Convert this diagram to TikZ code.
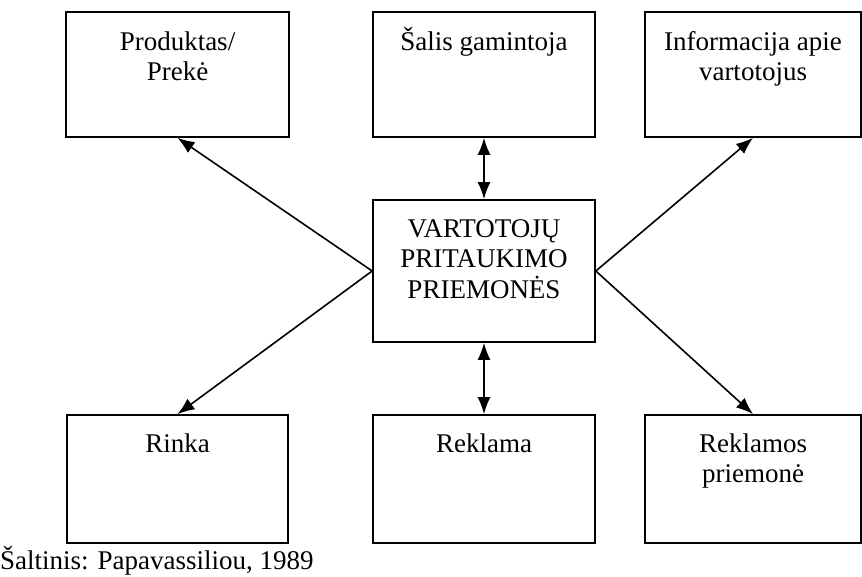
\documentclass[tikz,border=0pt]{standalone}
\usepackage{fontspec}
\setmainfont{Liberation Serif}
\usetikzlibrary{arrows.meta}
\newcommand{\tp}{\vphantom{Š}}
\begin{document}
\begin{tikzpicture}[x=1pt,y=-1pt,
  boxst/.style={draw,line width=1.7pt,rectangle,inner sep=0pt},
  txt/.style={align=center,anchor=north,inner sep=0pt,font=\fontsize{27}{30.5}\selectfont},
  arr/.style={line width=1.6pt,-{Latex[length=17pt,width=13pt]}},
  darr/.style={line width=1.6pt,{Latex[length=17pt,width=13pt]}-{Latex[length=17pt,width=13pt]}}]
\useasboundingbox (0,0) rectangle (862,577);
% boxes
\node[boxst,minimum width=223pt,minimum height=125pt] (pl) at (177.5,74.5) {};
\node[boxst,minimum width=222pt,minimum height=125pt] (pm) at (484,74.5) {};
\node[boxst,minimum width=216pt,minimum height=125pt] (pr) at (753,74.5) {};
\node[boxst,minimum width=222pt,minimum height=142pt] (c) at (484,271) {};
\node[boxst,minimum width=221pt,minimum height=128pt] (bl) at (177.5,479) {};
\node[boxst,minimum width=222pt,minimum height=128pt] (bm) at (484,479) {};
\node[boxst,minimum width=216pt,minimum height=128pt] (br) at (753,479) {};
% texts
\node[txt] (tpl) at (177.5,27) {\tp Produktas/\\Prekė};
\node[txt] (tpm) at (484,27) {\tp Šalis gamintoja};
\node[txt] (tpr) at (753,27) {\tp Informacija apie\\vartotojus};
\node[txt] (tc) at (484,219) {VARTOTOJŲ\\PRITAUKIMO\\PRIEMONĖS};
\node[txt] (tbl) at (177.5,429) {\tp Rinka};
\node[txt] (tbm) at (484,429) {\tp Reklama};
\node[txt] (tbr) at (753,429) {\tp Reklamos\\priemonė};
\node[anchor=base west,inner sep=0pt,font=\fontsize{27}{30.5}\selectfont] (src) at (0,569) {Šaltinis: Papavassiliou, 1989};
% connectors
\draw[arr] (c.west) -- (pl.south);
\draw[arr] (c.west) -- (bl.north);
\draw[arr] (c.east) -- (pr.south);
\draw[arr] (c.east) -- (br.north);
\draw[darr] (pm.south) -- (c.north);
\draw[darr] (c.south) -- (bm.north);
\end{tikzpicture}
\end{document}
